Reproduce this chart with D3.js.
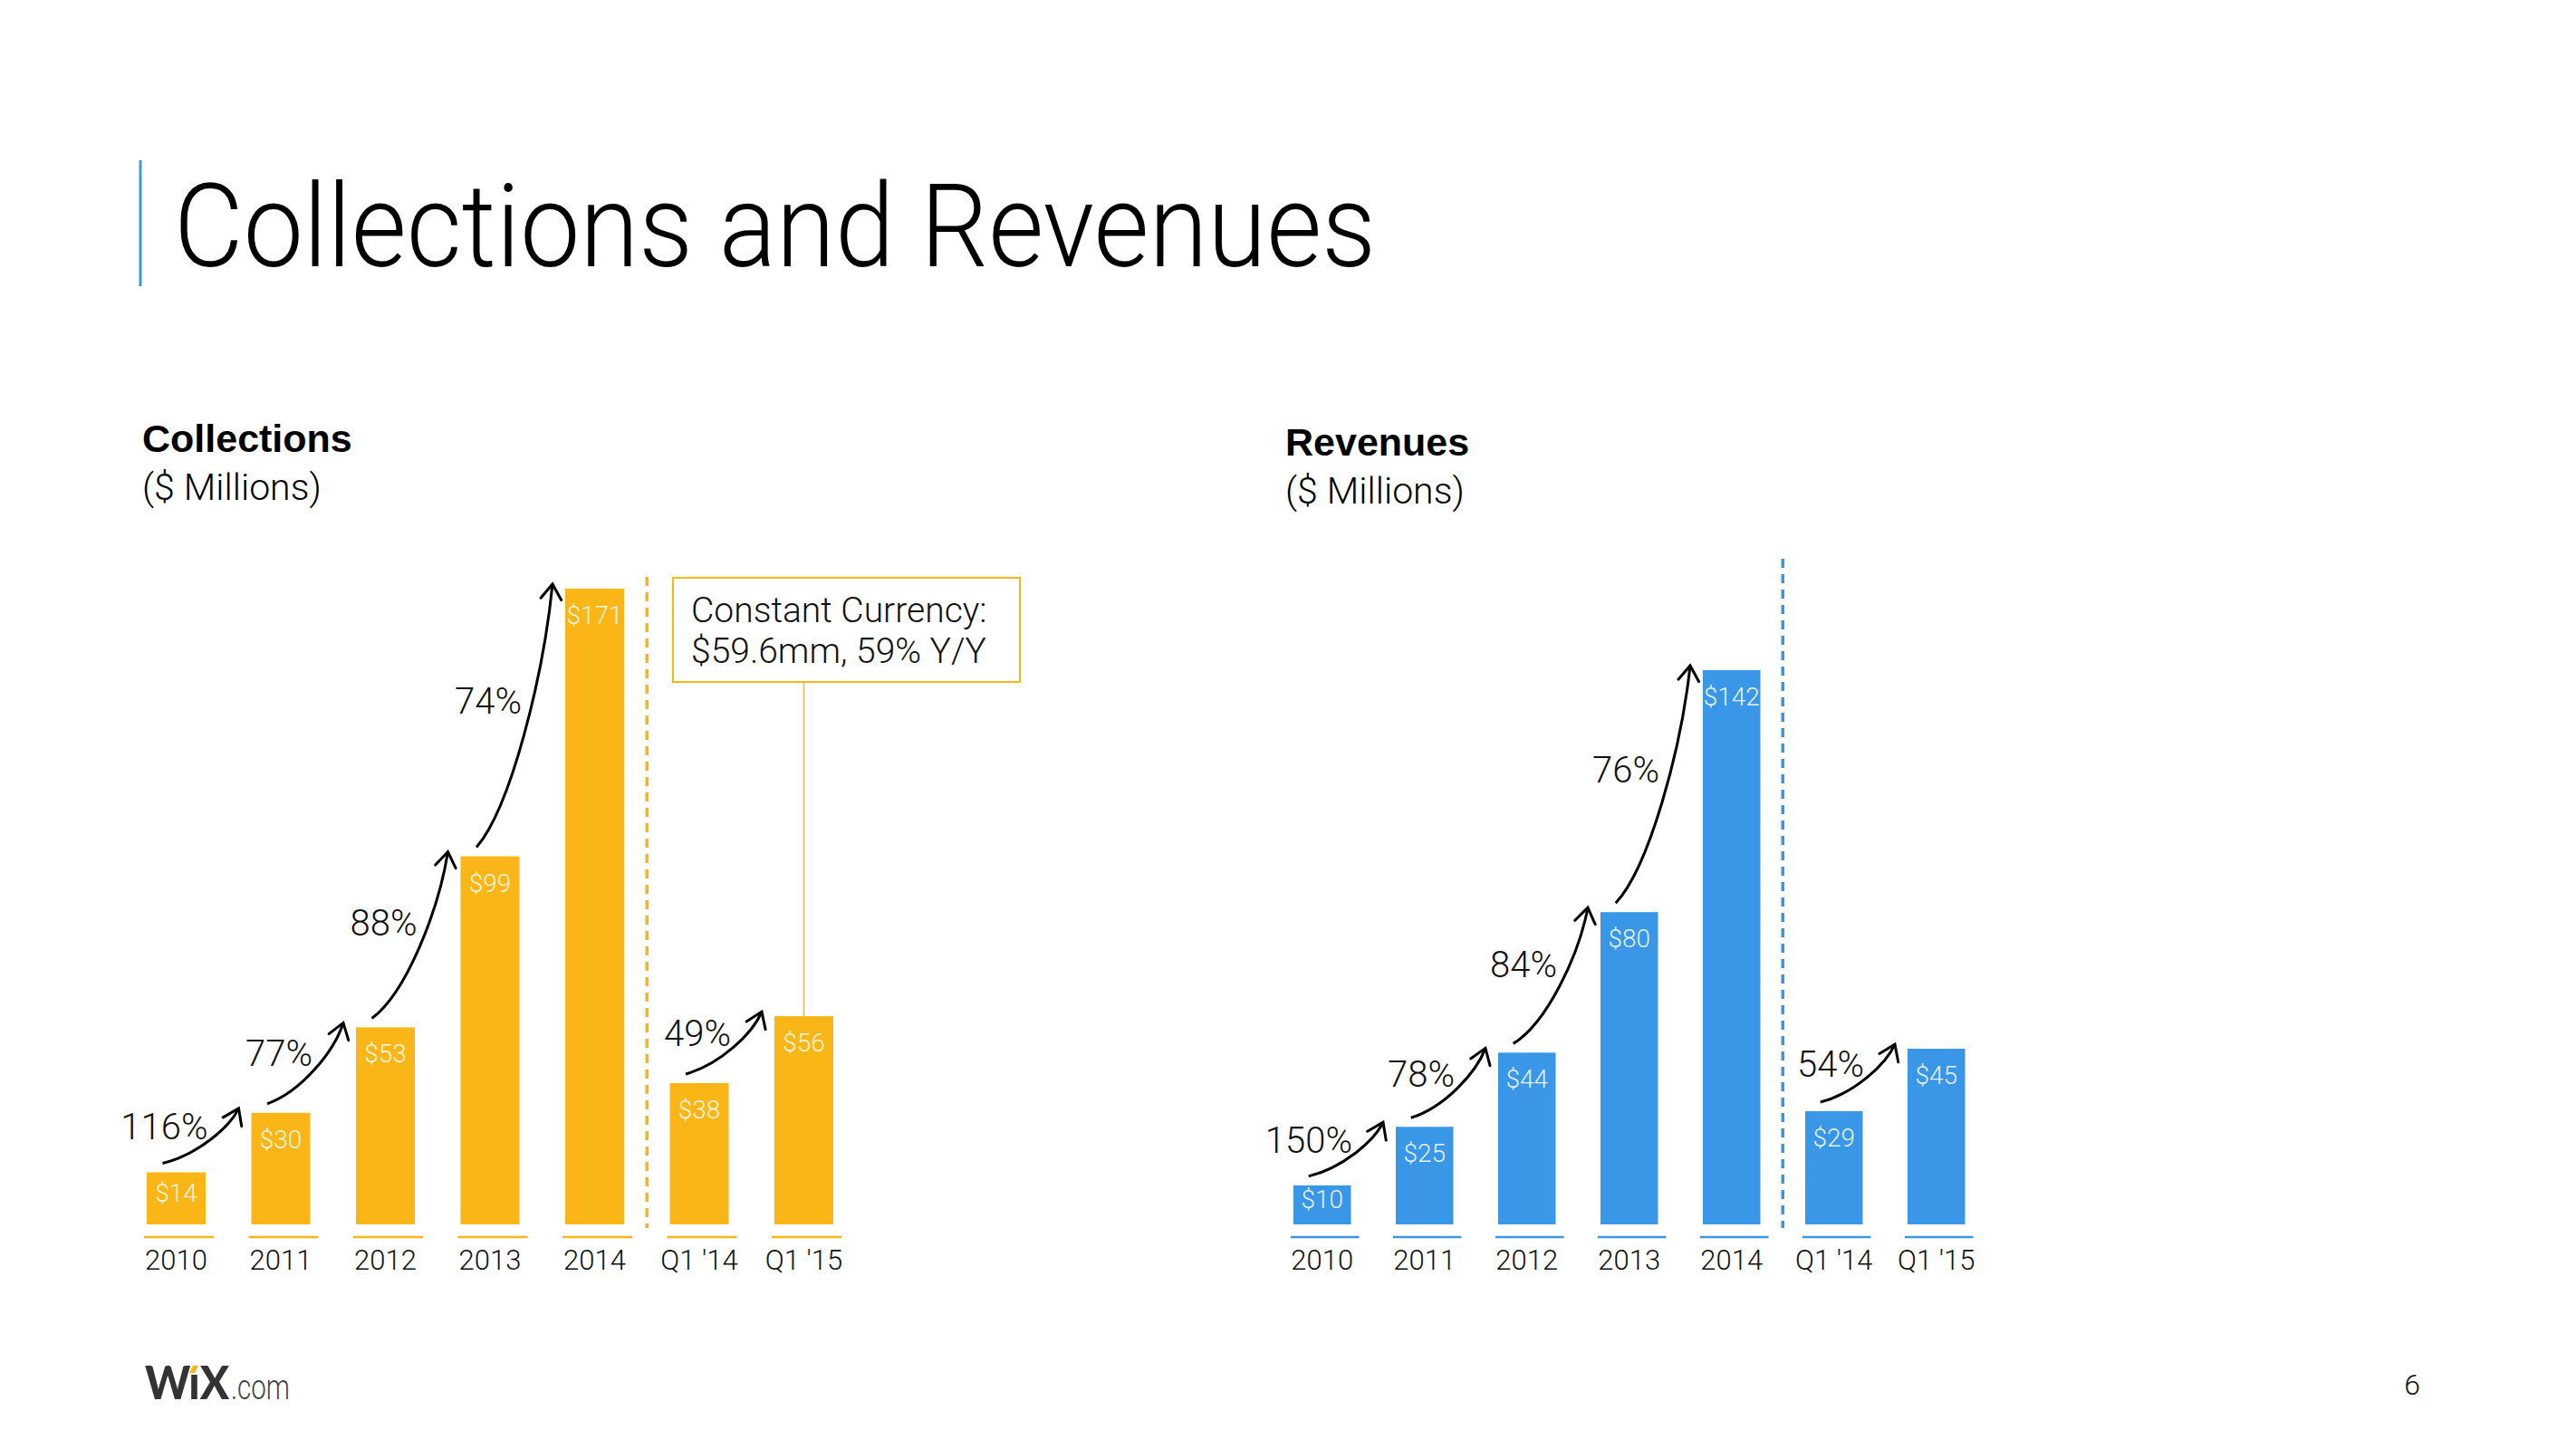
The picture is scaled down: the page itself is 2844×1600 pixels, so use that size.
<!DOCTYPE html>
<html><head><meta charset="utf-8">
<script src="https://cdn.jsdelivr.net/npm/d3@7"></script>
<style>
html,body{margin:0;padding:0;background:#fff;}
svg{display:block;}
text{font-family:"Roboto","Helvetica Neue","Liberation Sans",sans-serif;}
</style></head><body>
<svg id="c" width="2844" height="1600"></svg>
<script>
// ---------- DATA ----------
const categories = ["2010", "2011", "2012", "2013", "2014", "Q1 '14", "Q1 '15"];
const collectionsValues = [14, 30, 53, 99, 171, 38, 56];
const revenuesValues = [10, 25, 44, 80, 142, 29, 45];
const collectionsValueLabels = ["$14", "$30", "$53", "$99", "$171", "$38", "$56"];
const revenuesValueLabels = ["$10", "$25", "$44", "$80", "$142", "$29", "$45"];
// growth between consecutive categories (null = no arrow)
const collectionsGrowth = ["116%", "77%", "88%", "74%", null, "49%"];
const revenuesGrowth = ["150%", "78%", "84%", "76%", null, "54%"];
const collectionsNote = ["Constant Currency:", "$59.6mm, 59% Y/Y"];

// ---------- STYLE ----------
const YELLOW = "#F9B616";
const BLUE = "#3A96E6";
const LIGHT = 300;

const svg = d3.select("#c");

// Title
svg.append("line").attr("x1", 155).attr("x2", 155).attr("y1", 177).attr("y2", 316)
  .attr("stroke", BLUE).attr("stroke-width", 3);
svg.append("text").attr("x", 192).attr("y", 294)
  .style("font-size", "128px").style("font-weight", LIGHT).attr("fill", "#000")
  .attr("textLength", 1327).attr("lengthAdjust", "spacingAndGlyphs")
  .text("Collections and Revenues");

function drawChart(o) {
  const g = svg.append("g");
  const x = d3.scaleBand().domain(categories).range(o.xRange)
    .paddingInner(o.padding).paddingOuter(o.padding / 2);
  const y = d3.scaleLinear().domain(o.yDomain).range(o.yRange);
  const y0 = y(0);
  const bw = x.bandwidth();

  // headings
  g.append("text").attr("x", o.headX).attr("y", o.headY)
    .style("font-family", "'Liberation Sans', Arial, sans-serif")
    .style("font-weight", 700).style("font-size", "43px").attr("fill", "#000")
    .text(o.title);
  g.append("text").attr("x", o.headX).attr("y", o.headY + 53)
    .style("font-size", "41px").style("font-weight", LIGHT).attr("fill", "#000")
    .text("($ Millions)");

  // bars
  g.selectAll("rect.bar").data(o.values).join("rect").attr("class", "bar")
    .attr("x", (d, i) => x(categories[i])).attr("width", bw)
    .attr("y", d => y(d)).attr("height", d => y0 - y(d))
    .attr("fill", o.color);

  // underline "axis" segments
  g.selectAll("line.base").data(categories).join("line").attr("class", "base")
    .attr("x1", d => x(d) - 3).attr("x2", d => x(d) + bw + 9)
    .attr("y1", y0 + 14).attr("y2", y0 + 14)
    .attr("stroke", o.color).attr("stroke-width", 2.5);

  // category labels
  g.selectAll("text.cat").data(categories).join("text").attr("class", "cat")
    .attr("x", d => x(d) + bw / 2).attr("y", y0 + 50)
    .attr("text-anchor", "middle").style("font-size", "31px").style("font-weight", LIGHT)
    .attr("fill", "#111").text(d => d);

  // value labels
  g.selectAll("text.val").data(o.values).join("text").attr("class", "val")
    .attr("x", (d, i) => x(categories[i]) + bw / 2)
    .attr("y", d => Math.min(y(d) + 39, (y(d) + y0) / 2 + 4))
    .attr("text-anchor", "middle").style("font-size", "28px").style("font-weight", LIGHT)
    .attr("fill", "#fff").attr("fill-opacity", 0.88)
    .text((d, i) => o.valueLabels[i]);

  // separator dashed line
  const sepX = (x(categories[4]) + bw + x(categories[5])) / 2;
  g.append("line").attr("x1", sepX).attr("x2", sepX).attr("y1", o.sepTop).attr("y2", y0 + 4)
    .attr("stroke", o.color).attr("stroke-width", 3.5).attr("stroke-dasharray", "10,7");

  // growth arrows
  o.growth.forEach((lab, i) => {
    if (!lab) return;
    const a = categories[i], b = categories[i + 1];
    const S = [x(a) + bw / 2 - 15, y(o.values[i]) - 10];
    const E = [x(b) - 14, y(o.values[i + 1]) - 5];
    const dx = E[0] - S[0], dy = S[1] - E[1];
    const C1 = [S[0] + 0.45 * dx, S[1] - 0.15 * dy];
    const C2 = [E[0] - 0.12 * dx, E[1] + 0.35 * dy];
    const p = d3.path();
    p.moveTo(S[0], S[1]);
    p.bezierCurveTo(C1[0], C1[1], C2[0], C2[1], E[0], E[1]);
    g.append("path").attr("d", p.toString()).attr("fill", "none")
      .attr("stroke", "#000").attr("stroke-width", 3);
    // arrow head (open V)
    const ang = Math.atan2(E[1] - C2[1], E[0] - C2[0]);
    const L = 20, spread = Math.PI / 5.2;
    const h1 = [E[0] - L * Math.cos(ang - spread), E[1] - L * Math.sin(ang - spread)];
    const h2 = [E[0] - L * Math.cos(ang + spread), E[1] - L * Math.sin(ang + spread)];
    g.append("path").attr("d", `M${h1[0]},${h1[1]}L${E[0]},${E[1]}L${h2[0]},${h2[1]}`)
      .attr("fill", "none").attr("stroke", "#000").attr("stroke-width", 3)
      .attr("stroke-linejoin", "miter").attr("stroke-linecap", "round");
    // label
    g.append("text").attr("x", E[0] - 34).attr("y", E[1] + 0.47 * dy + 6)
      .attr("text-anchor", "end").style("font-size", "40px").style("font-weight", LIGHT)
      .attr("fill", "#111").text(lab);
  });

  return { g, x, y, bw };
}

const col = drawChart({
  title: "Collections", headX: 157, headY: 499,
  xRange: [136.75, 945.25], padding: 0.437,
  yDomain: [0, 171], yRange: [1352, 650],
  values: collectionsValues, valueLabels: collectionsValueLabels,
  growth: collectionsGrowth, color: YELLOW, sepTop: 637
});

drawChart({
  title: "Revenues", headX: 1419, headY: 503,
  xRange: [1403.25, 2194.25], padding: 0.438,
  yDomain: [0, 142], yRange: [1352, 740],
  values: revenuesValues, valueLabels: revenuesValueLabels,
  growth: revenuesGrowth, color: BLUE, sepTop: 617
});

// Constant currency note box (collections)
{
  const { g, x, y, bw } = col;
  const cx = x(categories[6]) + bw / 2;
  g.append("rect").attr("x", 743).attr("y", 638).attr("width", 383).attr("height", 115)
    .attr("fill", "#fff").attr("stroke", YELLOW).attr("stroke-width", 2);
  g.append("line").attr("x1", cx).attr("x2", cx).attr("y1", 753).attr("y2", y(collectionsValues[6]))
    .attr("stroke", YELLOW).attr("stroke-width", 1.5);
  g.selectAll("text.note").data(collectionsNote).join("text").attr("class", "note")
    .attr("x", 763).attr("y", (d, i) => 687 + i * 45)
    .style("font-size", "39px").style("font-weight", LIGHT).attr("fill", "#111")
    .text(d => d);
}

// Footer: logo + page number
svg.append("text").attr("x", 160).attr("y", 1545)
  .style("font-family", "Lato, 'DejaVu Sans', sans-serif").style("font-weight", 900)
  .style("font-size", "52px").attr("fill", "#333")
  .attr("textLength", 93).attr("lengthAdjust", "spacingAndGlyphs").text("WıX");
svg.append("polygon").attr("points", "209,1516 213,1508 219,1508 215,1516").attr("fill", YELLOW);
svg.append("text").attr("x", 255).attr("y", 1545)
  .style("font-size", "38px").style("font-weight", LIGHT).attr("fill", "#444")
  .attr("textLength", 65).attr("lengthAdjust", "spacingAndGlyphs").text(".com");
svg.append("text").attr("x", 2663).attr("y", 1540).attr("text-anchor", "middle")
  .style("font-size", "32px").style("font-weight", LIGHT).attr("fill", "#111").text("6");
</script>
</body></html>
